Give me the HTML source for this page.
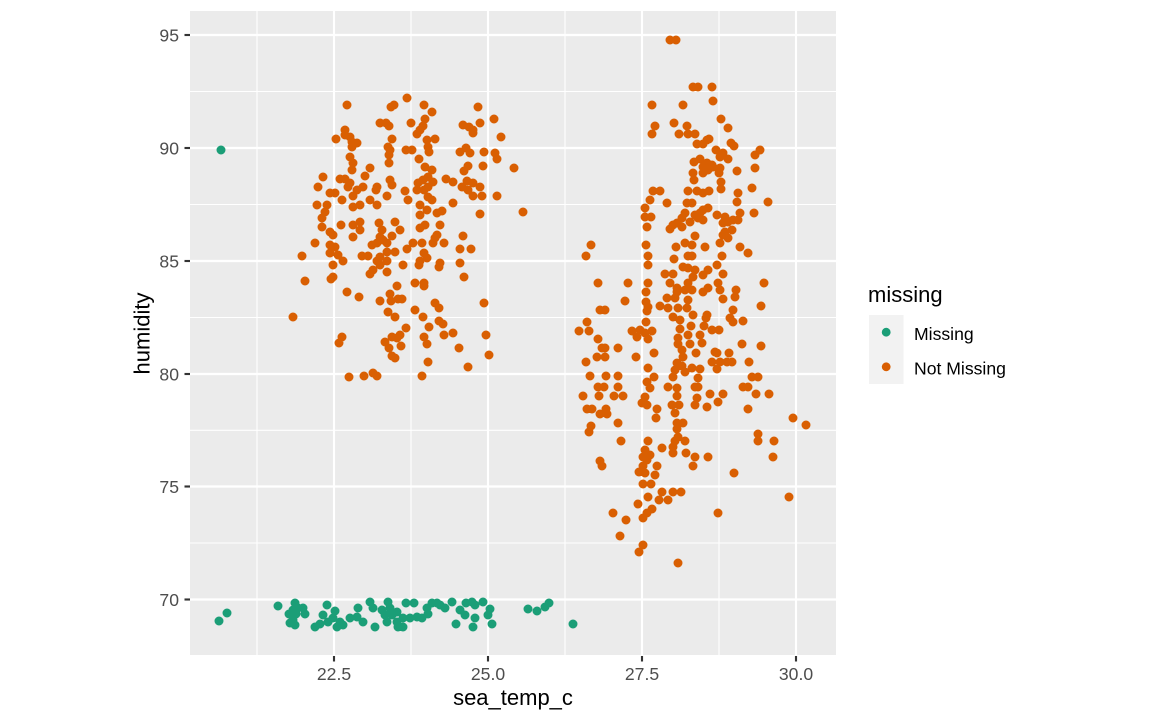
<!DOCTYPE html>
<html>
<head>
<meta charset="utf-8">
<style>
html,body{margin:0;padding:0;background:#fff;}
svg{display:block;}
text{font-family:"Liberation Sans",Arial,sans-serif;}
</style>
</head>
<body>
<svg width="1152" height="720" viewBox="0 0 1152 720" xmlns="http://www.w3.org/2000/svg">
<rect x="0" y="0" width="1152" height="720" fill="#ffffff"/>
<!-- panel -->
<rect x="190" y="11" width="646" height="645" fill="#EBEBEB"/>
<!-- minor grid -->
<g stroke="#ffffff" stroke-width="1.07" fill="none">
<line x1="257" y1="11" x2="257" y2="656"/>
<line x1="411" y1="11" x2="411" y2="656"/>
<line x1="565" y1="11" x2="565" y2="656"/>
<line x1="719" y1="11" x2="719" y2="656"/>
<line x1="190" y1="91.5" x2="836" y2="91.5"/>
<line x1="190" y1="204.5" x2="836" y2="204.5"/>
<line x1="190" y1="317.5" x2="836" y2="317.5"/>
<line x1="190" y1="430.3" x2="836" y2="430.3"/>
<line x1="190" y1="543" x2="836" y2="543"/>
<line x1="190" y1="655.5" x2="836" y2="655.5"/>
</g>
<!-- major grid -->
<g stroke="#ffffff" stroke-width="2.13" fill="none">
<line x1="334" y1="11" x2="334" y2="656"/>
<line x1="488" y1="11" x2="488" y2="656"/>
<line x1="642" y1="11" x2="642" y2="656"/>
<line x1="796" y1="11" x2="796" y2="656"/>
<line x1="190" y1="35" x2="836" y2="35"/>
<line x1="190" y1="148" x2="836" y2="148"/>
<line x1="190" y1="261" x2="836" y2="261"/>
<line x1="190" y1="374" x2="836" y2="374"/>
<line x1="190" y1="486.5" x2="836" y2="486.5"/>
<line x1="190" y1="599.5" x2="836" y2="599.5"/>
</g>
<!-- green points -->
<path fill="none" stroke="#1B9E77" stroke-width="9" stroke-linecap="round" d="M221 150h0M219 621h0M227 613h0M278 606h0M295 603h0M293 610h0M298 608h0M303 608h0M305 614h0M289 614h0M296 614h0M293 620h0M290 623h0M295 625h0M327 605h0M323 615h0M335 611h0M315 627h0M320 624h0M328 622h0M333 618h0M340 622h0M337 627h0M343 625h0M350 618h0M358 608h0M357 617h0M363 622h0M370 602h0M373 608h0M375 627h0M382 610h0M388 602h0M390 608h0M385 615h0M392 615h0M387 622h0M397 612h0M397 622h0M398 627h0M403 627h0M406 603h0M414 603h0M403 618h0M410 618h0M417 617h0M422 618h0M427 608h0M432 603h0M437 603h0M440 605h0M445 608h0M428 614h0M452 602h0M456 624h0M460 610h0M466 603h0M472 602h0M475 605h0M465 615h0M475 618h0M473 627h0M483 602h0M490 609h0M488 615h0M492 624h0M528 609h0M537 611h0M545 607h0M549 603h0M573 624h0"/>
<!-- orange points -->
<path fill="none" stroke="#D95F02" stroke-width="9" stroke-linecap="round" d="M347 105h0M407 98h0M391 107h0M394 105h0M424 105h0M432 112h0M478 107h0M494 119h0M380 123h0M386 123h0M389 126h0M411 123h0M425 119h0M423 126h0M420 130h0M417 134h0M463 125h0M469 127h0M473 130h0M480 123h0M473 133h0M501 137h0M345 130h0M345 135h0M350 137h0M336 139h0M352 142h0M357 143h0M352 147h0M392 139h0M388 147h0M390 150h0M389 155h0M427 140h0M435 139h0M428 147h0M429 152h0M406 150h0M412 150h0M466 148h0M460 152h0M470 153h0M484 152h0M495 153h0M497 159h0M350 157h0M353 163h0M352 170h0M389 163h0M419 159h0M425 167h0M432 170h0M468 166h0M464 171h0M483 166h0M514 168h0M370 168h0M365 176h0M323 177h0M340 179h0M345 179h0M350 183h0M348 187h0M390 180h0M392 185h0M418 183h0M423 180h0M428 177h0M433 182h0M428 187h0M424 190h0M446 179h0M453 182h0M467 181h0M473 183h0M462 187h0M468 190h0M480 187h0M318 187h0M330 193h0M335 193h0M342 200h0M357 190h0M353 196h0M363 187h0M377 187h0M376 190h0M405 191h0M408 200h0M387 196h0M417 190h0M428 197h0M432 200h0M473 196h0M482 196h0M497 196h0M453 203h0M317 205h0M327 205h0M325 212h0M322 218h0M353 207h0M360 205h0M370 200h0M377 205h0M420 205h0M427 210h0M420 215h0M437 213h0M442 211h0M480 214h0M523 212h0M322 227h0M330 232h0M333 235h0M341 225h0M353 225h0M360 222h0M360 230h0M353 237h0M379 223h0M382 230h0M395 222h0M400 230h0M392 236h0M420 228h0M425 225h0M440 225h0M437 235h0M463 236h0
M315 243h0M330 245h0M335 247h0M330 253h0M338 255h0M343 261h0M302 256h0M333 265h0M333 277h0M331 279h0M305 281h0M362 256h0M368 256h0M372 245h0M377 243h0M383 240h0M387 243h0M380 237h0M387 252h0M395 252h0M380 257h0M377 261h0M387 261h0M380 265h0M373 270h0M370 274h0M387 272h0M403 265h0M407 249h0M413 243h0M422 243h0M424 253h0M427 258h0M420 261h0M419 265h0M433 243h0M435 238h0M444 243h0M460 249h0M471 249h0M440 263h0M439 267h0M460 263h0M464 277h0M397 286h0M415 283h0M424 283h0M424 286h0M347 292h0M359 297h0M380 301h0M390 294h0M391 301h0M398 299h0M402 299h0M388 312h0M395 317h0M415 310h0M423 317h0M435 303h0M439 308h0M484 303h0M293 317h0M439 321h0M443 324h0M429 327h0M406 328h0M444 335h0M453 333h0M486 335h0M342 337h0M339 343h0M385 342h0M392 337h0M397 338h0M400 335h0M424 337h0M427 344h0M389 348h0M401 346h0M459 348h0M392 356h0M395 358h0M489 355h0M428 362h0M468 367h0M349 377h0M364 376h0M373 373h0M377 376h0M422 376h0
M670 40h0M676 40h0M693 87h0M698 87h0M712 87h0M713 101h0M652 105h0M683 105h0M721 119h0M728 128h0M655 126h0M652 134h0M674 123h0M687 126h0M679 134h0M688 134h0M695 134h0M697 144h0M703 144h0M707 140h0M709 139h0M731 143h0M734 146h0M716 150h0M723 153h0M720 157h0M728 159h0M755 155h0M760 150h0M694 162h0M700 159h0M707 163h0M712 165h0M703 167h0M708 170h0M713 167h0M720 168h0M719 173h0M693 173h0M703 173h0M694 180h0M737 171h0M755 168h0M721 182h0M721 189h0M752 188h0M653 191h0M660 191h0M688 191h0M697 191h0M703 193h0M709 191h0M738 193h0M650 200h0M667 203h0M687 203h0M692 203h0M737 202h0M768 202h0
M645 208h0M645 217h0M651 217h0M647 227h0M685 213h0M682 218h0M677 223h0M673 225h0M670 229h0M682 227h0M690 222h0M695 215h0M700 213h0M703 210h0M708 208h0M703 220h0M698 218h0M717 215h0M725 217h0M728 222h0M733 220h0M738 220h0M740 213h0M723 223h0M732 230h0M725 232h0M723 235h0M728 238h0M720 243h0M754 213h0M695 236h0M591 245h0M586 256h0M646 245h0M648 256h0M648 265h0M676 247h0M685 243h0M692 245h0M705 247h0M740 247h0M748 253h0M674 259h0M688 256h0M692 256h0M722 256h0M717 265h0M683 267h0M688 268h0M695 270h0M703 275h0M708 270h0M665 274h0M673 274h0M693 277h0M723 274h0M598 283h0M628 283h0M648 283h0M646 292h0M670 283h0M677 288h0M688 283h0M685 290h0M692 290h0M677 292h0M703 292h0M708 288h0M718 283h0M720 290h0M736 290h0M735 297h0M764 283h0M625 301h0M600 310h0M605 310h0M646 302h0M648 307h0M647 311h0M660 306h0M667 298h0M675 298h0M668 308h0M678 308h0M688 300h0M687 308h0M723 299h0M761 306h0M733 310h0M730 318h0M733 322h0M743 321h0M693 315h0M707 315h0M706 318h0M673 317h0M680 320h0M587 322h0M579 331h0M589 331h0M646 322h0M632 331h0M640 330h0M645 333h0M652 331h0M637 337h0M648 339h0M680 329h0M691 326h0M704 326h0M712 330h0M719 330h0M598 339h0M678 338h0M688 335h0M700 335h0M702 343h0M690 344h0M678 344h0M602 348h0M605 348h0M618 348h0M742 344h0M761 346h0M682 350h0M683 357h0M696 353h0M715 352h0M717 353h0M597 357h0M605 357h0M636 357h0M654 353h0M729 353h0M586 362h0M677 363h0M682 366h0M712 362h0M720 362h0M727 362h0M732 362h0M749 362h0M648 368h0M675 370h0M685 372h0M692 368h0M700 369h0M717 369h0M590 376h0M606 376h0M618 376h0M654 377h0M673 377h0M752 377h0M758 377h0
M598 387h0M604 387h0M618 387h0M583 396h0M599 396h0M614 396h0M623 396h0M587 409h0M592 409h0M600 414h0M606 409h0M607 414h0M618 423h0M591 426h0M589 432h0M621 441h0M600 461h0M602 466h0M647 382h0M650 388h0M645 397h0M642 403h0M647 405h0M657 409h0M656 418h0M668 387h0M677 388h0M677 396h0M672 405h0M679 405h0M675 413h0M695 387h0M698 387h0M698 378h0M697 398h0M695 405h0M707 407h0M710 394h0M718 402h0M723 394h0M743 387h0M748 387h0M756 394h0M769 394h0M748 409h0M793 418h0M806 425h0M677 423h0M683 423h0M677 429h0M678 437h0M675 441h0M685 441h0M673 447h0M673 453h0M686 453h0M662 448h0M695 457h0M708 457h0M693 466h0M758 434h0M758 441h0M774 441h0M773 457h0M648 441h0M645 450h0M643 457h0M650 455h0M647 460h0M643 466h0M639 472h0M645 473h0M657 466h0M655 475h0M734 473h0M643 484h0M651 484h0M662 492h0M673 492h0M681 492h0M648 497h0M659 500h0M668 500h0M789 497h0M638 504h0M652 509h0M647 513h0M643 518h0M613 513h0M626 520h0M718 513h0M620 536h0M643 545h0M639 552h0M678 563h0"/>
<!-- axis ticks -->
<g stroke="#333333" stroke-width="2.13">
<line x1="184.5" y1="35" x2="190" y2="35"/>
<line x1="184.5" y1="148" x2="190" y2="148"/>
<line x1="184.5" y1="261" x2="190" y2="261"/>
<line x1="184.5" y1="374" x2="190" y2="374"/>
<line x1="184.5" y1="486.5" x2="190" y2="486.5"/>
<line x1="184.5" y1="599.5" x2="190" y2="599.5"/>
<line x1="334" y1="656" x2="334" y2="661.5"/>
<line x1="488" y1="656" x2="488" y2="661.5"/>
<line x1="642" y1="656" x2="642" y2="661.5"/>
<line x1="796" y1="656" x2="796" y2="661.5"/>
</g>
<!-- tick labels -->
<g fill="#4D4D4D" font-size="17.6">
<text x="179" y="41.3" text-anchor="end">95</text>
<text x="179" y="154.3" text-anchor="end">90</text>
<text x="179" y="267.3" text-anchor="end">85</text>
<text x="179" y="380.3" text-anchor="end">80</text>
<text x="179" y="492.8" text-anchor="end">75</text>
<text x="179" y="605.8" text-anchor="end">70</text>
<text x="334" y="680" text-anchor="middle">22.5</text>
<text x="488" y="680" text-anchor="middle">25.0</text>
<text x="642" y="680" text-anchor="middle">27.5</text>
<text x="796" y="680" text-anchor="middle">30.0</text>
</g>
<!-- axis titles -->
<text x="513" y="705" text-anchor="middle" font-size="22" fill="#000">sea_temp_c</text>
<text transform="translate(149.5,333.5) rotate(-90)" text-anchor="middle" font-size="22" fill="#000">humidity</text>
<!-- legend -->
<text x="868" y="302" font-size="22" fill="#000">missing</text>
<rect x="869" y="315" width="34.5" height="69" fill="#F2F2F2"/>
<circle cx="886.2" cy="332.2" r="4.4" fill="#1B9E77"/>
<circle cx="886.2" cy="366.8" r="4.4" fill="#D95F02"/>
<text x="914" y="340" font-size="17.6" fill="#000">Missing</text>
<text x="914" y="374.5" font-size="17.6" fill="#000">Not Missing</text>
</svg>
</body>
</html>
